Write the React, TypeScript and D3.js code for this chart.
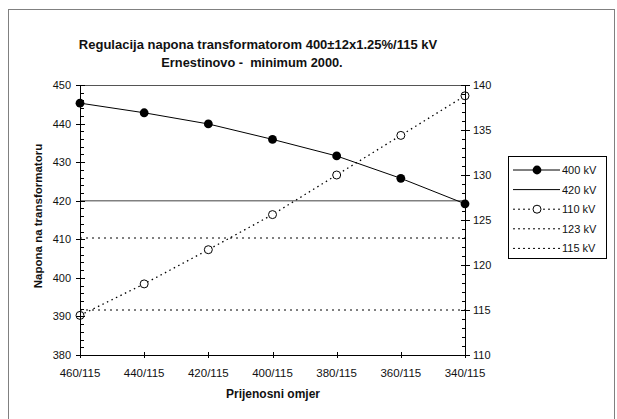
import React from "react";
import * as d3 from "d3";

const categories = ["460/115", "440/115", "420/115", "400/115", "380/115", "360/115", "340/115"];
const kv400 = [445.3, 442.8, 439.9, 435.9, 431.6, 425.8, 419.2];
const kv110 = [114.4, 117.9, 121.7, 125.6, 130.0, 134.4, 138.8];
const kv420 = 420;
const kv123 = 123;
const kv115 = 115;
const leftTicks = [380, 390, 400, 410, 420, 430, 440, 450];
const rightTicks = [110, 115, 120, 125, 130, 135, 140];
const legendLabels = ["400 kV", "420 kV", "110 kV", "123 kV", "115 kV"];

const W = 617, H = 419;
const PL = 80, PR = 465, PT = 85, PB = 355;
const FONT = "'Liberation Sans', Arial, sans-serif";

export default function App() {
  const x = d3.scalePoint<string>().domain(categories).range([PL, PR]);
  const yL = d3.scaleLinear().domain([380, 450]).range([PB, PT]);
  const yR = d3.scaleLinear().domain([110, 140]).range([PB, PT]);
  const line400 = d3.line<number>().x((_, i) => x(categories[i])!).y(d => yL(d));
  const line110 = d3.line<number>().x((_, i) => x(categories[i])!).y(d => yR(d));
  const minorL = d3.range(380, 451, 2).filter(v => v % 10 !== 0);
  const minorR = d3.range(110, 141, 1).filter(v => v % 5 !== 0);

  const legX0 = 513, legX1 = 560, legMid = 537, legY0 = 170, legDy = 19.6;

  return (
    <svg width={W} height={H} style={{ position: "absolute", left: 0, top: 0, background: "#fff" }} fontFamily={FONT}>
      <rect x={8.5} y={9.5} width={606} height={430} fill="#fff" stroke="#808080" strokeWidth={1} />
      <text x={258} y={49} textAnchor="middle" fontSize={13} fontWeight="bold" fill="#111">
        Regulacija napona transformatorom 400±12x1.25%/115 kV
      </text>
      <text x={252} y={66.5} textAnchor="middle" fontSize={12.8} fontWeight="bold" fill="#111" style={{ whiteSpace: "pre" }}>
        {"Ernestinovo -  minimum 2000."}
      </text>

      {/* plot top border */}
      <line x1={PL} x2={PR} y1={PT + 0.5} y2={PT + 0.5} stroke="#555" strokeWidth={1} />

      {/* reference lines */}
      <line x1={PL} x2={PR} y1={yL(kv420)} y2={yL(kv420)} stroke="#808080" strokeWidth={1.5} />
      <line x1={PL} x2={PR} y1={yR(kv123)} y2={yR(kv123)} stroke="#000" strokeWidth={1} strokeDasharray="2,4" />
      <line x1={PL} x2={PR} y1={yR(kv115)} y2={yR(kv115)} stroke="#000" strokeWidth={1} strokeDasharray="2,4" />

      {/* series */}
      <path d={line110(kv110)!} fill="none" stroke="#000" strokeWidth={1.3} strokeDasharray="1.5,3.5" />
      <path d={line400(kv400)!} fill="none" stroke="#000" strokeWidth={1} />
      {kv110.map((v, i) => (
        <circle key={"o" + i} cx={x(categories[i])} cy={yR(v)} r={4} fill="#fff" stroke="#000" strokeWidth={1} />
      ))}
      {kv400.map((v, i) => (
        <circle key={"f" + i} cx={x(categories[i])} cy={yL(v)} r={4.4} fill="#000" />
      ))}

      {/* axes */}
      <g stroke="#000" strokeWidth={1}>
        <line x1={PL + 0.5} x2={PL + 0.5} y1={PT} y2={PB} />
        <line x1={PR + 0.5} x2={PR + 0.5} y1={PT} y2={PB} />
        <line x1={PL} x2={PR + 1} y1={PB + 0.5} y2={PB + 0.5} />
        {leftTicks.map(v => (
          <line key={"lt" + v} x1={PL - 4} x2={PL + 5} y1={Math.round(yL(v)) + 0.5} y2={Math.round(yL(v)) + 0.5} />
        ))}
        {minorL.map(v => (
          <line key={"lm" + v} x1={PL} x2={PL + 4} y1={Math.round(yL(v)) + 0.5} y2={Math.round(yL(v)) + 0.5} />
        ))}
        {rightTicks.map(v => (
          <line key={"rt" + v} x1={PR - 4} x2={PR + 5} y1={Math.round(yR(v)) + 0.5} y2={Math.round(yR(v)) + 0.5} />
        ))}
        {minorR.map(v => (
          <line key={"rm" + v} x1={PR - 3} x2={PR + 1} y1={Math.round(yR(v)) + 0.5} y2={Math.round(yR(v)) + 0.5} />
        ))}
        {categories.map(c => (
          <line key={"xt" + c} x1={Math.round(x(c)!) + 0.5} x2={Math.round(x(c)!) + 0.5} y1={PB - 3} y2={PB + 3} />
        ))}
      </g>

      <g fontSize={11} fill="#111">
        {leftTicks.map(v => (
          <text key={"ll" + v} x={PL - 9} y={yL(v) + 4} textAnchor="end">{v}</text>
        ))}
        {rightTicks.map(v => (
          <text key={"rl" + v} x={PR + 8} y={yR(v) + 4}>{v}</text>
        ))}
        {categories.map(c => (
          <text key={"xl" + c} x={x(c)} y={377} textAnchor="middle" fontSize={11.5}>{c}</text>
        ))}
      </g>

      <text x={273} y={398} textAnchor="middle" fontSize={12} fontWeight="bold" fill="#111">Prijenosni omjer</text>
      <text transform={`translate(42,216) rotate(-90)`} textAnchor="middle" fontSize={11.5} fontWeight="bold" fill="#111">
        Napona na transformatoru
      </text>

      {/* legend */}
      <rect x={508.5} y={156.5} width={98} height={102} fill="#fff" stroke="#000" strokeWidth={1} />
      {legendLabels.map((lab, i) => {
        const yy = legY0 + i * legDy;
        return (
          <g key={lab}>
            {i === 0 && <line x1={legX0} x2={legX1} y1={yy} y2={yy} stroke="#000" strokeWidth={1} />}
            {i === 0 && <circle cx={legMid} cy={yy} r={4.4} fill="#000" />}
            {i === 1 && <line x1={legX0} x2={legX1} y1={yy} y2={yy} stroke="#000" strokeWidth={1} />}
            {i === 2 && <line x1={legX0} x2={legX1} y1={yy} y2={yy} stroke="#000" strokeWidth={1} strokeDasharray="2,3" />}
            {i === 2 && <circle cx={legMid} cy={yy} r={4} fill="#fff" stroke="#000" strokeWidth={1} />}
            {i >= 3 && <line x1={legX0} x2={legX1} y1={yy} y2={yy} stroke="#000" strokeWidth={1} strokeDasharray="2,3" />}
            <text x={legX1 + 2} y={yy + 4} fontSize={11} fill="#111">{lab}</text>
          </g>
        );
      })}
    </svg>
  );
}
